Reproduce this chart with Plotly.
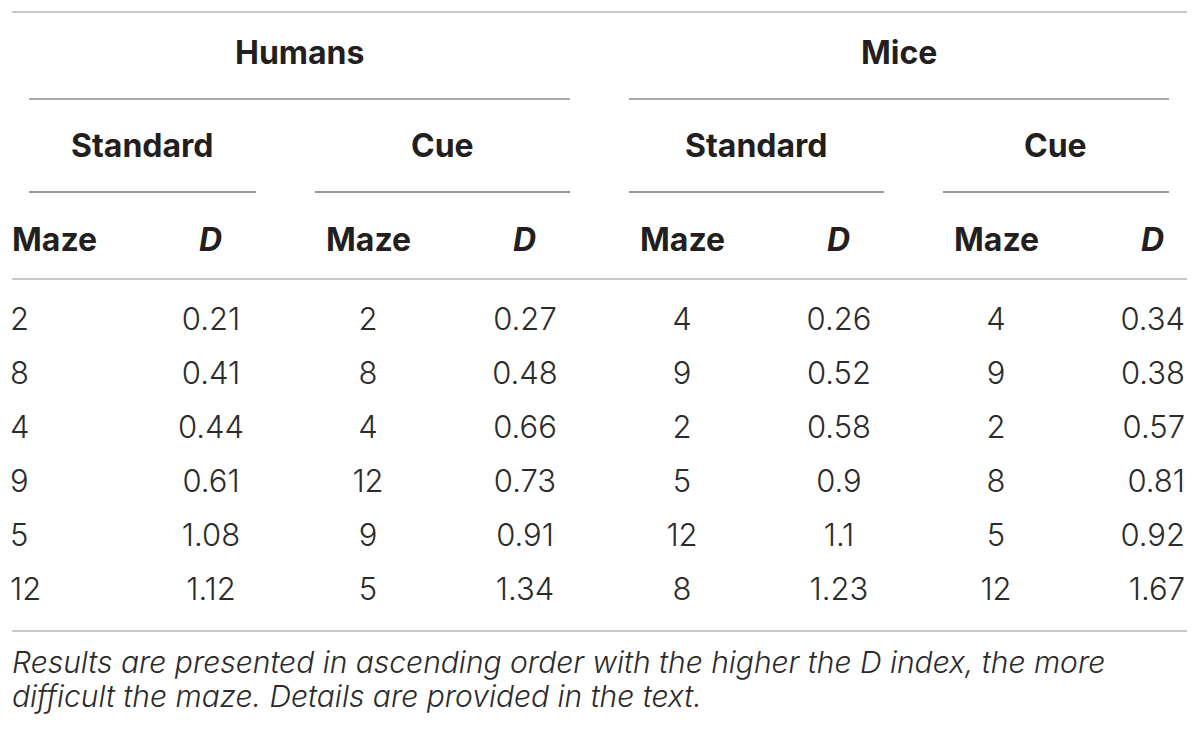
import plotly.graph_objects as go

WIDTH = 1200
HEIGHT = 736

# table data
groups = ['Humans', 'Mice']
conditions = ['Standard', 'Cue', 'Standard', 'Cue']
col_headers = ['Maze', '<i>D</i>'] * 4

human_std_maze = ['2', '8', '4', '9', '5', '12']
human_std_d = ['0.21', '0.41', '0.44', '0.61', '1.08', '1.12']
human_cue_maze = ['2', '8', '4', '12', '9', '5']
human_cue_d = ['0.27', '0.48', '0.66', '0.73', '0.91', '1.34']
mice_std_maze = ['4', '9', '2', '5', '12', '8']
mice_std_d = ['0.26', '0.52', '0.58', '0.9', '1.1', '1.23']
mice_cue_maze = ['4', '9', '2', '8', '5', '12']
mice_cue_d = ['0.34', '0.38', '0.57', '0.81', '0.92', '1.67']

footnote = ['Results are presented in ascending order with the higher the D index, the more',
            'difficult the maze. Details are provided in the text.']

columns = [human_std_maze, human_std_d, human_cue_maze, human_cue_d,
           mice_std_maze, mice_std_d, mice_cue_maze, mice_cue_d]

# layout helpers (axis units: x = column index, y = row index)
PAGE_PAD = 8  # body margin of the html page
COL_PX = 157.0
ROW_PX = 54.0
X0 = -(54 - PAGE_PAD) / COL_PX
Y0 = -(320 - PAGE_PAD) / ROW_PX
DATA_DY = 0.05
Y_GROUP, Y_COND, Y_HEAD = -4.95, -3.24, -1.5
Y_TOP, Y_GROUP_LINE, Y_COND_LINE, Y_HEAD_LINE, Y_BOTTOM = -5.704, -4.093, -2.37, -0.76, 5.76
Y_NOTE = [6.33, 6.97]
LEFT_EDGE, RIGHT_EDGE = -0.159, 7.102
OUTER_LEFT, OUTER_RIGHT = -0.2675, 7.217
TEXT_LEFT, TEXT_RIGHT = -0.28, 0.204

BODY_FONT = dict(family='Inter', size=31, color='#2b2b2b', weight=300)
HEAD_FONT = dict(family='Inter', size=32, color='#231f20', weight='bold')
NOTE_FONT = dict(family='Inter', size=30, color='#2b2b2b', weight=300, style='italic')


def span(c0, c1):
    return max(c0 - 0.338, LEFT_EDGE), min(c1 + 0.287, RIGHT_EDGE)


fig = go.Figure()

rows = [r + DATA_DY for r in range(len(human_std_maze))]
n_cols = len(columns)
for i, col in enumerate(columns):
    if i == 0:
        pos, x = 'middle right', [i + TEXT_LEFT] * len(col)
    elif i == n_cols - 1:
        pos, x = 'middle left', [i + TEXT_RIGHT] * len(col)
    else:
        pos, x = 'middle center', [i] * len(col)
    fig.add_trace(go.Scatter(x=x, y=rows, mode='text', text=col, textposition=pos,
                             textfont=BODY_FONT, hoverinfo='skip', showlegend=False))


# rules
def rule(x0, x1, y, color, width):
    fig.add_trace(go.Scatter(x=[x0, x1], y=[y, y], mode='lines', line=dict(color=color, width=width),
                             hoverinfo='skip', showlegend=False))


rule(OUTER_LEFT, OUTER_RIGHT, Y_TOP, '#c8c8c8', 2)
rule(OUTER_LEFT, OUTER_RIGHT, Y_HEAD_LINE, '#c8c8c8', 2)
rule(OUTER_LEFT, OUTER_RIGHT, Y_BOTTOM, '#c8c8c8', 2)

for g, name in enumerate(groups):
    a, b = span(4 * g, 4 * g + 3)
    fig.add_annotation(x=(a + b) / 2, y=Y_GROUP, text=name, showarrow=False, font=HEAD_FONT)
    rule(a, b, Y_GROUP_LINE, '#aaaaaa', 2)

for k, name in enumerate(conditions):
    a, b = span(2 * k, 2 * k + 1)
    fig.add_annotation(x=(a + b) / 2, y=Y_COND, text=name, showarrow=False, font=HEAD_FONT)
    rule(a, b, Y_COND_LINE, '#777777', 1.5)

for i, name in enumerate(col_headers):
    if i == 0:
        fig.add_annotation(x=TEXT_LEFT, y=Y_HEAD, text=name, showarrow=False, font=HEAD_FONT,
                           xanchor='left')
    else:
        fig.add_annotation(x=i, y=Y_HEAD, text=name, showarrow=False, font=HEAD_FONT)

for y, line in zip(Y_NOTE, footnote):
    fig.add_annotation(x=TEXT_LEFT, y=y, text=line, showarrow=False, font=NOTE_FONT,
                       xanchor='left')

fig.update_xaxes(range=[X0, X0 + WIDTH / COL_PX], visible=False)
fig.update_yaxes(range=[Y0 + HEIGHT / ROW_PX, Y0], visible=False)
fig.update_layout(width=WIDTH, height=HEIGHT, margin=dict(l=0, r=0, t=0, b=0),
                  plot_bgcolor='white', paper_bgcolor='white')

fig.write_html('out.html')
